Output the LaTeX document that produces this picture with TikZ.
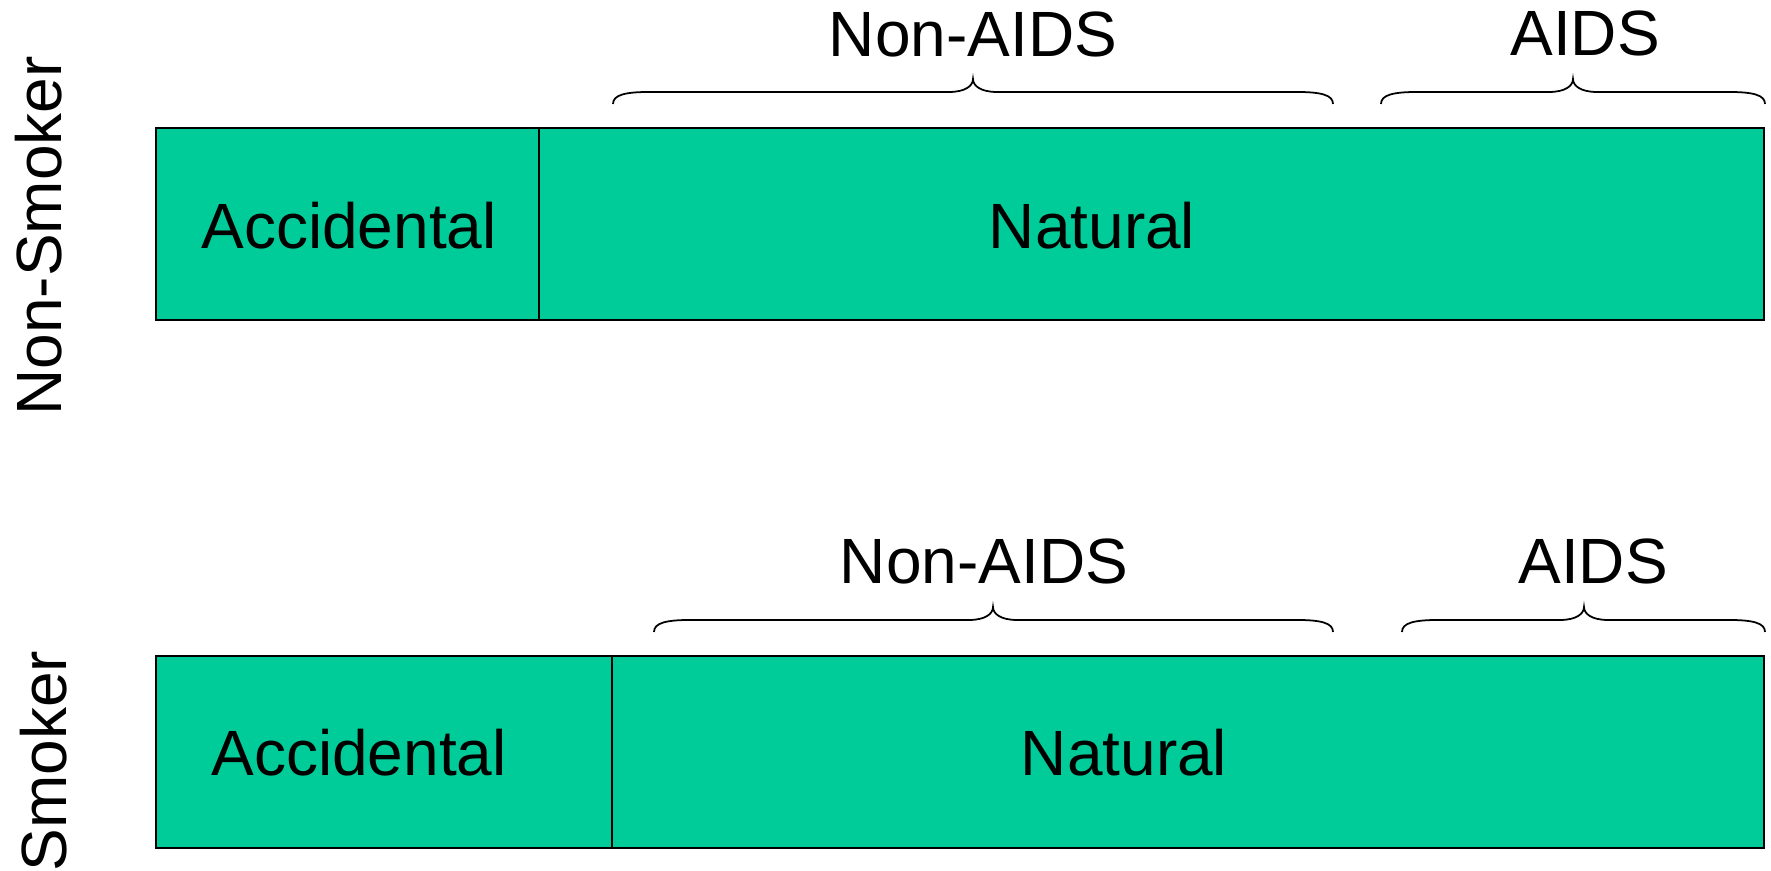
\documentclass[tikz,border=0pt]{standalone}
\usepackage{fontspec}
\setmainfont{Liberation Sans}
\usepackage{xcolor}
\definecolor{barGreen}{RGB}{0,204,153}

\begin{document}
\begin{tikzpicture}[
    x=0.01cm, y=-0.01cm,
    bar/.style={draw=black, fill=barGreen, line width=0.6pt},
    brc/.style={draw, line width=0.5pt},
    lbl/.style={font=\fontsize{18.2}{22}\selectfont, inner sep=0pt},
    grp/.style={lbl, rotate=90}
]
\useasboundingbox (0,0) rectangle (1771,871);

% non-smoker
\draw[bar] (156,128) rectangle (1764,320);
\draw[line width=0.6pt] (539,128) -- (539,320);
\node[lbl] (accTop) at (349,226) {Accidental};
\node[lbl] (natTop) at (1092,226) {Natural};
\node[lbl] (nonAidsTop) at (973,34) {Non-AIDS};
\node[lbl] (aidsTop) at (1585,33) {AIDS};
\node[grp] (nonSmoker) at (39,236) {Non-Smoker};

% smoker
\draw[bar] (156,656) rectangle (1764,848);
\draw[line width=0.6pt] (612,656) -- (612,848);
\node[lbl] (accBot) at (359,753) {Accidental};
\node[lbl] (natBot) at (1124,753) {Natural};
\node[lbl] (nonAidsBot) at (984,561) {Non-AIDS};
\node[lbl] (aidsBot) at (1593,561) {AIDS};
\node[grp] (smoker) at (44,761) {Smoker};

% braces: left end / tip / right end / bottom of ends
\foreach \xa/\xm/\xb/\yb in {613/973/1333/104, 1381/1573/1765/104,
                             654/993/1333/632, 1402/1584/1765/632}
  \draw[brc] (\xa,\yb) .. controls (\xa,{\yb-9}) and ({\xa+12},{\yb-12}) .. ({\xa+36},{\yb-12})
    -- ({\xm-24},{\yb-12}) .. controls ({\xm-8},{\yb-12}) and (\xm,{\yb-18}) .. (\xm,{\yb-25})
    .. controls (\xm,{\yb-18}) and ({\xm+8},{\yb-12}) .. ({\xm+24},{\yb-12})
    -- ({\xb-36},{\yb-12}) .. controls ({\xb-12},{\yb-12}) and (\xb,{\yb-9}) .. (\xb,\yb);
\end{tikzpicture}
\end{document}
